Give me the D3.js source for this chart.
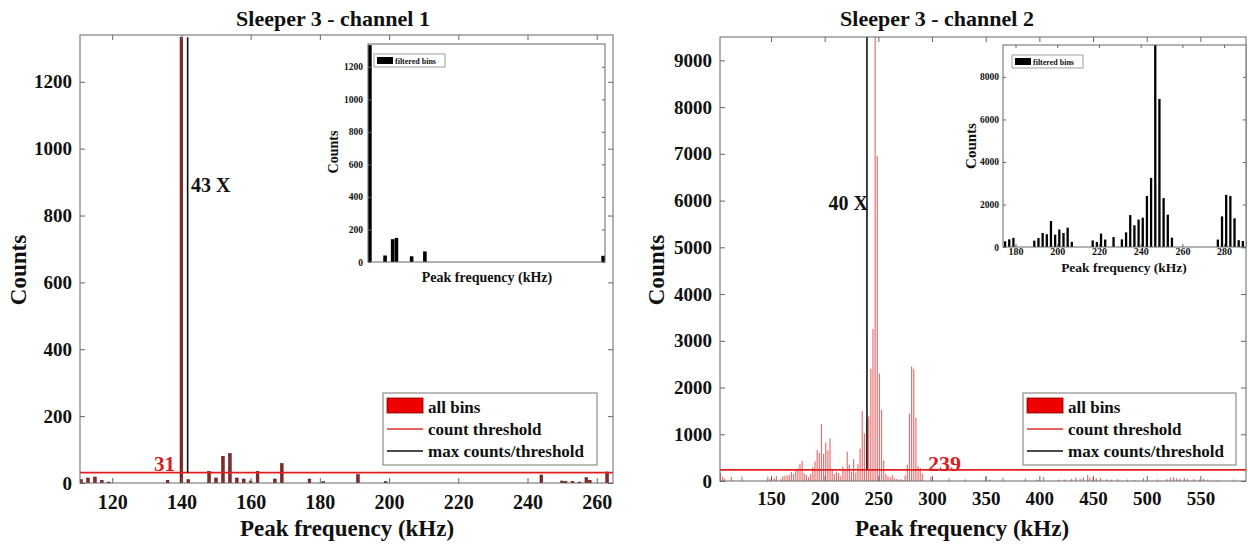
<!DOCTYPE html>
<html>
<head>
<meta charset="utf-8">
<script src="https://cdn.jsdelivr.net/npm/d3@7"></script>
<style>
  body { margin: 0; background: #fff; }
  svg { display: block; font-family: "Liberation Serif", "Times New Roman", serif; font-weight: bold; }
</style>
</head>
<body>
<svg width="1248" height="544"></svg>
<script>
"use strict";

/////////////////////////////////////////////////////
// data
/////////////////////////////////////////////////////

// channel 1 : all bins (kHz / counts)
const ch1Freq = [111, 113, 115, 117, 119, 136, 140, 142, 148, 150, 152, 154, 156, 158, 160,
  162, 167, 169, 177, 181, 191, 199, 244, 250, 251, 253, 255, 257, 258, 263];
const ch1Counts = [10, 15, 18, 8, 3, 8, 1333, 10, 35, 15, 80, 88, 15, 12, 6,
  35, 12, 58, 12, 4, 25, 4, 24, 6, 5, 5, 3, 16, 8, 33];
// channel 1 : filtered bins shown in the inset
const ch1InsetFreq = [140, 148, 152, 154, 162, 169, 263];
const ch1InsetCounts = [1333, 40, 140, 148, 35, 65, 38];
const ch1Threshold = 31;
const ch1MaxFreq = 141.8;
const ch1Ratio = "43 X";

// channel 2 : all bins
const ch2Freq = [103, 105, 107, 113, 123, 147, 149, 153, 155, 159, 161, 163, 165, 167, 169, 171, 173,
  175, 177, 179, 181, 183, 185, 187, 189, 191, 193, 195, 197, 199, 201, 203, 205, 207, 209, 211, 213, 215,
  217, 219, 221, 223, 225, 227, 229, 231, 233, 235, 237, 239, 241, 243, 245, 247, 249, 251, 253, 255,
  257, 259, 261, 263, 265, 267, 269, 271, 273, 275, 277, 279, 281, 283, 285, 287, 289, 291, 299,
  316, 331, 350, 354, 366, 387, 398, 404, 418, 424, 430, 434, 438, 441, 445, 447, 450, 453, 457,
  463, 467, 473, 482, 489, 497, 510, 519, 522, 525, 528, 531, 535, 538, 544, 549, 553, 557, 566, 581];
const ch2Counts = [170, 90, 50, 90, 90, 90, 40, 60, 110, 40, 100, 110, 120, 130, 190, 150, 220,
  270, 360, 430, 160, 130, 80, 150, 300, 420, 660, 600, 1220, 580, 820, 660, 910, 240, 150, 200, 170, 100,
  310, 240, 630, 350, 200, 470, 180, 360, 690, 1500, 1020, 1290, 1380, 2400, 3250, 9560, 6960, 2300, 1520, 440,
  150, 100, 80, 130, 60, 40, 30, 40, 20, 120, 350, 1440, 2450, 2400, 1350, 320, 280, 160, 90,
  55, 35, 85, 30, 70, 55, 30, 85, 30, 30, 45, 70, 50, 80, 130, 70, 80, 60, 70,
  35, 30, 40, 30, 20, 60, 30, 40, 70, 80, 60, 50, 70, 45, 40, 30, 50, 30, 20, 30];
// channel 2 : filtered bins shown in the inset
const ch2InsetFreq = [175, 177, 179, 189, 191, 193, 195, 197, 199, 201, 203, 205, 207, 217, 219, 221, 223,
  227, 231, 233, 235, 237, 239, 241, 243, 245, 247, 249, 251, 253, 255, 277, 279, 281, 283, 285, 287, 289];
const ch2InsetCounts = [270, 360, 430, 300, 420, 660, 600, 1220, 580, 820, 660, 910, 240, 310, 240, 630, 350,
  470, 360, 690, 1500, 1020, 1290, 1380, 2400, 3250, 9560, 6960, 2300, 1520, 440, 350, 1440, 2450, 2400, 1350, 320, 280];
const ch2Threshold = 239;
const ch2MaxFreq = 239.4;
const ch2Ratio = "40 X";

const ch1XTicks = [120, 140, 160, 180, 200, 220, 240, 260];
const ch1YTicks = [0, 200, 400, 600, 800, 1000, 1200];
const ch2XTicks = [150, 200, 250, 300, 350, 400, 450, 500, 550];
const ch2YTicks = [0, 1000, 2000, 3000, 4000, 5000, 6000, 7000, 8000, 9000];
const ch2InsetXTicks = [180, 200, 220, 240, 260, 280];
const ch2InsetYTicks = [0, 2000, 4000, 6000, 8000];

const legendLabels = ["all bins", "count threshold", "max counts/threshold"];

const svg = d3.select("svg");
const serif = '"Liberation Serif", "Times New Roman", serif';
const axisColor = "#666";
let clipCount = 0;

/////////////////////////////////////////////////////
// helpers
/////////////////////////////////////////////////////

// box with inward ticks on all four sides, MATLAB style
function drawBox(g, x, y, xTicks, yTicks, o) {
  const [x0, x1] = x.range();
  const [y1, y0] = y.range();
  const tick = o.tick || 5;

  const bottom = d3.axisBottom(x).tickValues(xTicks).tickSizeInner(-tick).tickSizeOuter(0)
    .tickPadding(o.xPad).tickFormat(o.xLabels ? d3.format("d") : "");
  const top = d3.axisTop(x).tickValues(xTicks).tickSizeInner(-tick).tickSizeOuter(0).tickFormat("");
  const left = d3.axisLeft(y).tickValues(yTicks).tickSizeInner(-tick).tickSizeOuter(0)
    .tickPadding(o.yPad).tickFormat(d3.format("d"));
  const right = d3.axisRight(y).tickValues(yTicks).tickSizeInner(-tick).tickSizeOuter(0).tickFormat("");

  const ax = g.append("g");
  const gb = ax.append("g").attr("transform", `translate(0,${y1})`).call(bottom);
  ax.append("g").attr("transform", `translate(0,${y0})`).call(top);
  const gl = ax.append("g").attr("transform", `translate(${x0},0)`).call(left);
  ax.append("g").attr("transform", `translate(${x1},0)`).call(right);

  ax.selectAll(".domain").remove();
  ax.selectAll("g").attr("font-family", null).attr("font-size", null);
  ax.selectAll(".tick line").attr("stroke", axisColor);
  ax.selectAll(".tick text").attr("fill", "#111")
    .style("font-family", serif).style("font-weight", "bold");
  gb.selectAll(".tick text").style("font-size", o.xFont + "px");
  gl.selectAll(".tick text").style("font-size", o.yFont + "px");

  ax.append("rect")
    .attr("x", x0).attr("y", y0)
    .attr("width", x1 - x0).attr("height", y1 - y0)
    .attr("fill", "none").attr("stroke", axisColor).attr("stroke-width", 1);
}

function drawBars(g, x, y, freq, counts, o) {
  const id = "clip" + (clipCount++);
  const [x0, x1] = x.range();
  const [y1, y0] = y.range();
  g.append("clipPath").attr("id", id)
    .append("rect").attr("x", x0).attr("y", y0).attr("width", x1 - x0).attr("height", y1 - y0);
  const data = freq.map((f, i) => ({ f: f, c: counts[i] }));
  g.append("g").attr("clip-path", `url(#${id})`)
    .selectAll("rect")
    .data(data)
    .enter()
    .append("rect")
    .attr("x", (d) => x(d.f - o.w / 2))
    .attr("width", (d) => Math.max(0.8, x(d.f + o.w / 2) - x(d.f - o.w / 2)))
    .attr("y", (d) => y(d.c))
    .attr("height", (d) => y(0) - y(d.c))
    .attr("fill", o.fill)
    .attr("stroke", o.stroke || "none")
    .attr("stroke-width", o.strokeWidth || 0);
}

function drawLegend(g, lx, ly, w, h) {
  g.append("rect").attr("x", lx).attr("y", ly).attr("width", w).attr("height", h)
    .attr("fill", "#fff").attr("stroke", "#777").attr("stroke-width", 1);
  const rowY = [20, 42, 64];
  g.append("rect").attr("x", lx + 4).attr("y", ly + 5).attr("width", 36).attr("height", 15)
    .attr("fill", "#ee0000").attr("stroke", "#7a0000").attr("stroke-width", 0.8);
  g.append("line").attr("x1", lx + 4).attr("x2", lx + 40).attr("y1", ly + 36).attr("y2", ly + 36)
    .attr("stroke", "#e03030").attr("stroke-width", 1.5);
  g.append("line").attr("x1", lx + 4).attr("x2", lx + 40).attr("y1", ly + 58).attr("y2", ly + 58)
    .attr("stroke", "#111").attr("stroke-width", 1.5);
  legendLabels.forEach((t, i) => {
    g.append("text").attr("x", lx + 45).attr("y", ly + rowY[i])
      .style("font-size", "17px").attr("fill", "#111").text(t);
  });
}

function drawInsetLegend(g, lx, ly) {
  g.append("rect").attr("x", lx).attr("y", ly).attr("width", 71).attr("height", 13)
    .attr("fill", "#fff").attr("stroke", "#888").attr("stroke-width", 0.8);
  g.append("rect").attr("x", lx + 3).attr("y", ly + 3).attr("width", 16).attr("height", 7).attr("fill", "#000");
  g.append("text").attr("x", lx + 21).attr("y", ly + 9.5).style("font-size", "8px").attr("fill", "#111")
    .text("filtered bins");
}

/////////////////////////////////////////////////////
// channel 1 (left)
/////////////////////////////////////////////////////
function chartChannel1() {
  const g = svg.append("g");
  const x = d3.scaleLinear().domain([110.7, 264.7]).range([80, 613]);
  const y = d3.scaleLinear().domain([0, 1340]).range([483, 35]);

  drawBars(g, x, y, ch1Freq, ch1Counts, { w: 0.8, fill: "#8e2626", stroke: "#4a0d0d", strokeWidth: 0.5 });

  g.append("line").attr("x1", x.range()[0]).attr("x2", x.range()[1])
    .attr("y1", y(ch1Threshold)).attr("y2", y(ch1Threshold))
    .attr("stroke", "#e02020").attr("stroke-width", 1.8);
  g.append("line").attr("x1", x(ch1MaxFreq)).attr("x2", x(ch1MaxFreq))
    .attr("y1", y(ch1Threshold)).attr("y2", y(1333))
    .attr("stroke", "#111").attr("stroke-width", 1.6);

  drawBox(g, x, y, ch1XTicks, ch1YTicks, { xLabels: true, xPad: 12, yPad: 8, xFont: 20, yFont: 19 });

  g.append("text").attr("x", 175).attr("y", 471).attr("text-anchor", "end")
    .style("font-size", "21px").attr("fill", "#d42020").text(ch1Threshold);
  g.append("text").attr("x", 191).attr("y", 192).style("font-size", "20px").attr("fill", "#111").text(ch1Ratio);

  g.append("text").attr("x", 333).attr("y", 26).attr("text-anchor", "middle")
    .style("font-size", "22px").attr("fill", "#111").text("Sleeper 3 - channel 1");
  g.append("text").attr("x", 347).attr("y", 536).attr("text-anchor", "middle")
    .style("font-size", "23px").attr("fill", "#111").text("Peak frequency (kHz)");
  g.append("text").attr("transform", "translate(26,270) rotate(-90)").attr("text-anchor", "middle")
    .style("font-size", "23px").attr("fill", "#111").text("Counts");

  drawLegend(g, 383, 393, 214, 72);

  // inset
  const ix = d3.scaleLinear().domain([139, 264]).range([368, 605]);
  const iy = d3.scaleLinear().domain([0, 1340]).range([262, 44]);
  g.append("rect").attr("x", 368).attr("y", 44).attr("width", 237).attr("height", 218).attr("fill", "#fff");
  drawBars(g, ix, iy, ch1InsetFreq, ch1InsetCounts, { w: 1.9, fill: "#000" });
  drawBox(g, ix, iy, [], ch1YTicks, { xLabels: false, xPad: 4, yPad: 5, xFont: 9, yFont: 9.5, tick: 3 });
  drawInsetLegend(g, 374, 54);
  g.append("text").attr("x", 487).attr("y", 282).attr("text-anchor", "middle")
    .style("font-size", "14px").attr("fill", "#111").text("Peak frequency (kHz)");
  g.append("text").attr("transform", "translate(338,152) rotate(-90)").attr("text-anchor", "middle")
    .style("font-size", "14px").attr("fill", "#111").text("Counts");
}

/////////////////////////////////////////////////////
// channel 2 (right)
/////////////////////////////////////////////////////
function chartChannel2() {
  const g = svg.append("g");
  const x = d3.scaleLinear().domain([102.5, 592.5]).range([720, 1246]);
  const y = d3.scaleLinear().domain([0, 9500]).range([481, 37]);

  drawBars(g, x, y, ch2Freq, ch2Counts, { w: 1.1, fill: "#e77070" });

  g.append("line").attr("x1", x.range()[0]).attr("x2", x.range()[1])
    .attr("y1", y(ch2Threshold)).attr("y2", y(ch2Threshold))
    .attr("stroke", "#e02020").attr("stroke-width", 1.8);
  g.append("line").attr("x1", x(ch2MaxFreq)).attr("x2", x(ch2MaxFreq))
    .attr("y1", y(ch2Threshold)).attr("y2", y(9500))
    .attr("stroke", "#111").attr("stroke-width", 1.6);

  drawBox(g, x, y, ch2XTicks, ch2YTicks, { xLabels: true, xPad: 11, yPad: 8, xFont: 19, yFont: 19 });

  g.append("text").attr("x", 928).attr("y", 471)
    .style("font-size", "22px").attr("fill", "#d42020").text(ch2Threshold);
  g.append("text").attr("x", 868).attr("y", 210).attr("text-anchor", "end")
    .style("font-size", "20px").attr("fill", "#111").text(ch2Ratio);

  g.append("text").attr("x", 937).attr("y", 26).attr("text-anchor", "middle")
    .style("font-size", "22px").attr("fill", "#111").text("Sleeper 3 - channel 2");
  g.append("text").attr("x", 962).attr("y", 536).attr("text-anchor", "middle")
    .style("font-size", "23px").attr("fill", "#111").text("Peak frequency (kHz)");
  g.append("text").attr("transform", "translate(664,270) rotate(-90)").attr("text-anchor", "middle")
    .style("font-size", "23px").attr("fill", "#111").text("Counts");

  drawLegend(g, 1023, 393, 213, 72);

  // inset
  const ix = d3.scaleLinear().domain([174, 290.5]).range([1003, 1246]);
  const iy = d3.scaleLinear().domain([0, 9500]).range([247, 45]);
  g.append("rect").attr("x", 1003).attr("y", 45).attr("width", 243).attr("height", 202).attr("fill", "#fff");
  drawBars(g, ix, iy, ch2InsetFreq, ch2InsetCounts, { w: 1.1, fill: "#000" });
  drawBox(g, ix, iy, ch2InsetXTicks, ch2InsetYTicks, { xLabels: true, xPad: 1, yPad: 4, xFont: 10, yFont: 9.5, tick: 3 });
  drawInsetLegend(g, 1012, 55);
  g.append("text").attr("x", 1124).attr("y", 272).attr("text-anchor", "middle")
    .style("font-size", "13.5px").attr("fill", "#111").text("Peak frequency (kHz)");
  g.append("text").attr("transform", "translate(976,146) rotate(-90)").attr("text-anchor", "middle")
    .style("font-size", "15px").attr("fill", "#111").text("Counts");
}

chartChannel1();
chartChannel2();
</script>
</body>
</html>
